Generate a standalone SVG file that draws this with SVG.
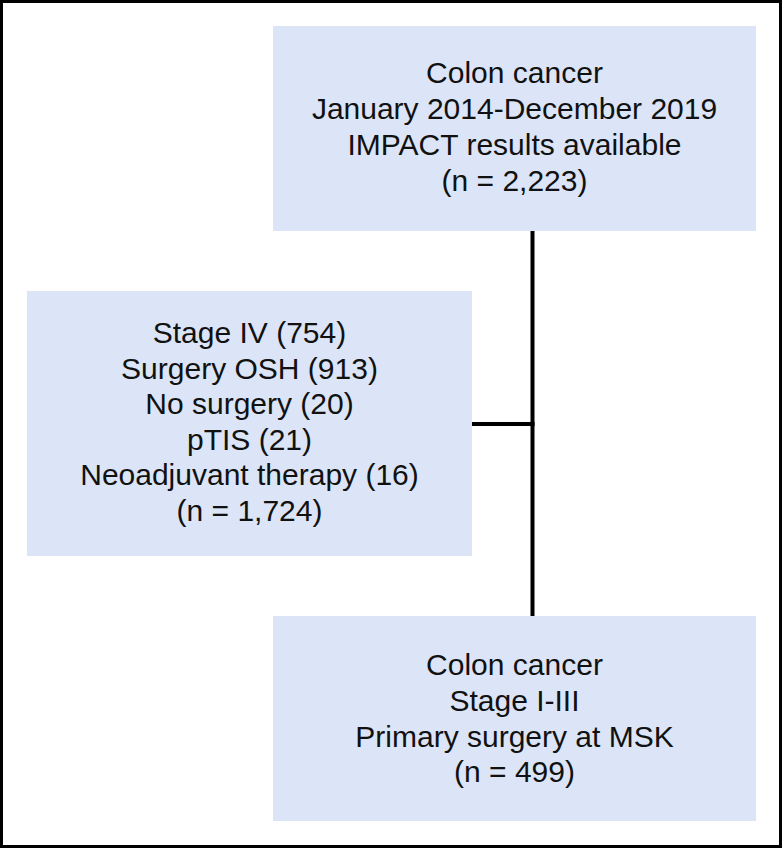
<svg xmlns="http://www.w3.org/2000/svg" width="782" height="848" viewBox="0 0 782 848">
<style>
.box{fill:#dbe5f7;stroke:none}
.t{font-family:"Liberation Sans",Arial,sans-serif;font-size:30px;fill:#111;text-anchor:middle}
.c{stroke:#000;stroke-width:4;fill:none}
</style>
<rect x="1.5" y="1.5" width="779" height="845" fill="#fff" stroke="#000" stroke-width="3"/>
<g id="connectors">
<line class="c" x1="532.5" y1="231" x2="532.5" y2="616"/>
<line class="c" x1="472" y1="424" x2="534.5" y2="424"/>
</g>
<g id="top">
<rect class="box" x="273" y="26" width="483" height="205"/>
<text class="t" x="514.5" y="83">Colon cancer</text>
<text class="t" x="514.5" y="119">January 2014-December 2019</text>
<text class="t" x="514.5" y="155">IMPACT results available</text>
<text class="t" x="514.5" y="191">(n = 2,223)</text>
</g>
<g id="excluded">
<rect class="box" x="27" y="291" width="445" height="265"/>
<text class="t" x="249.5" y="343">Stage IV (754)</text>
<text class="t" x="249.5" y="378.6">Surgery OSH (913)</text>
<text class="t" x="249.5" y="414.2">No surgery (20)</text>
<text class="t" x="249.5" y="449.8">pTIS (21)</text>
<text class="t" x="249.5" y="485.4">Neoadjuvant therapy (16)</text>
<text class="t" x="249.5" y="521">(n = 1,724)</text>
</g>
<g id="bottom">
<rect class="box" x="273" y="616" width="483" height="205"/>
<text class="t" x="514.5" y="675">Colon cancer</text>
<text class="t" x="514.5" y="711">Stage I-III</text>
<text class="t" x="514.5" y="746.5">Primary surgery at MSK</text>
<text class="t" x="514.5" y="782">(n = 499)</text>
</g>
</svg>
